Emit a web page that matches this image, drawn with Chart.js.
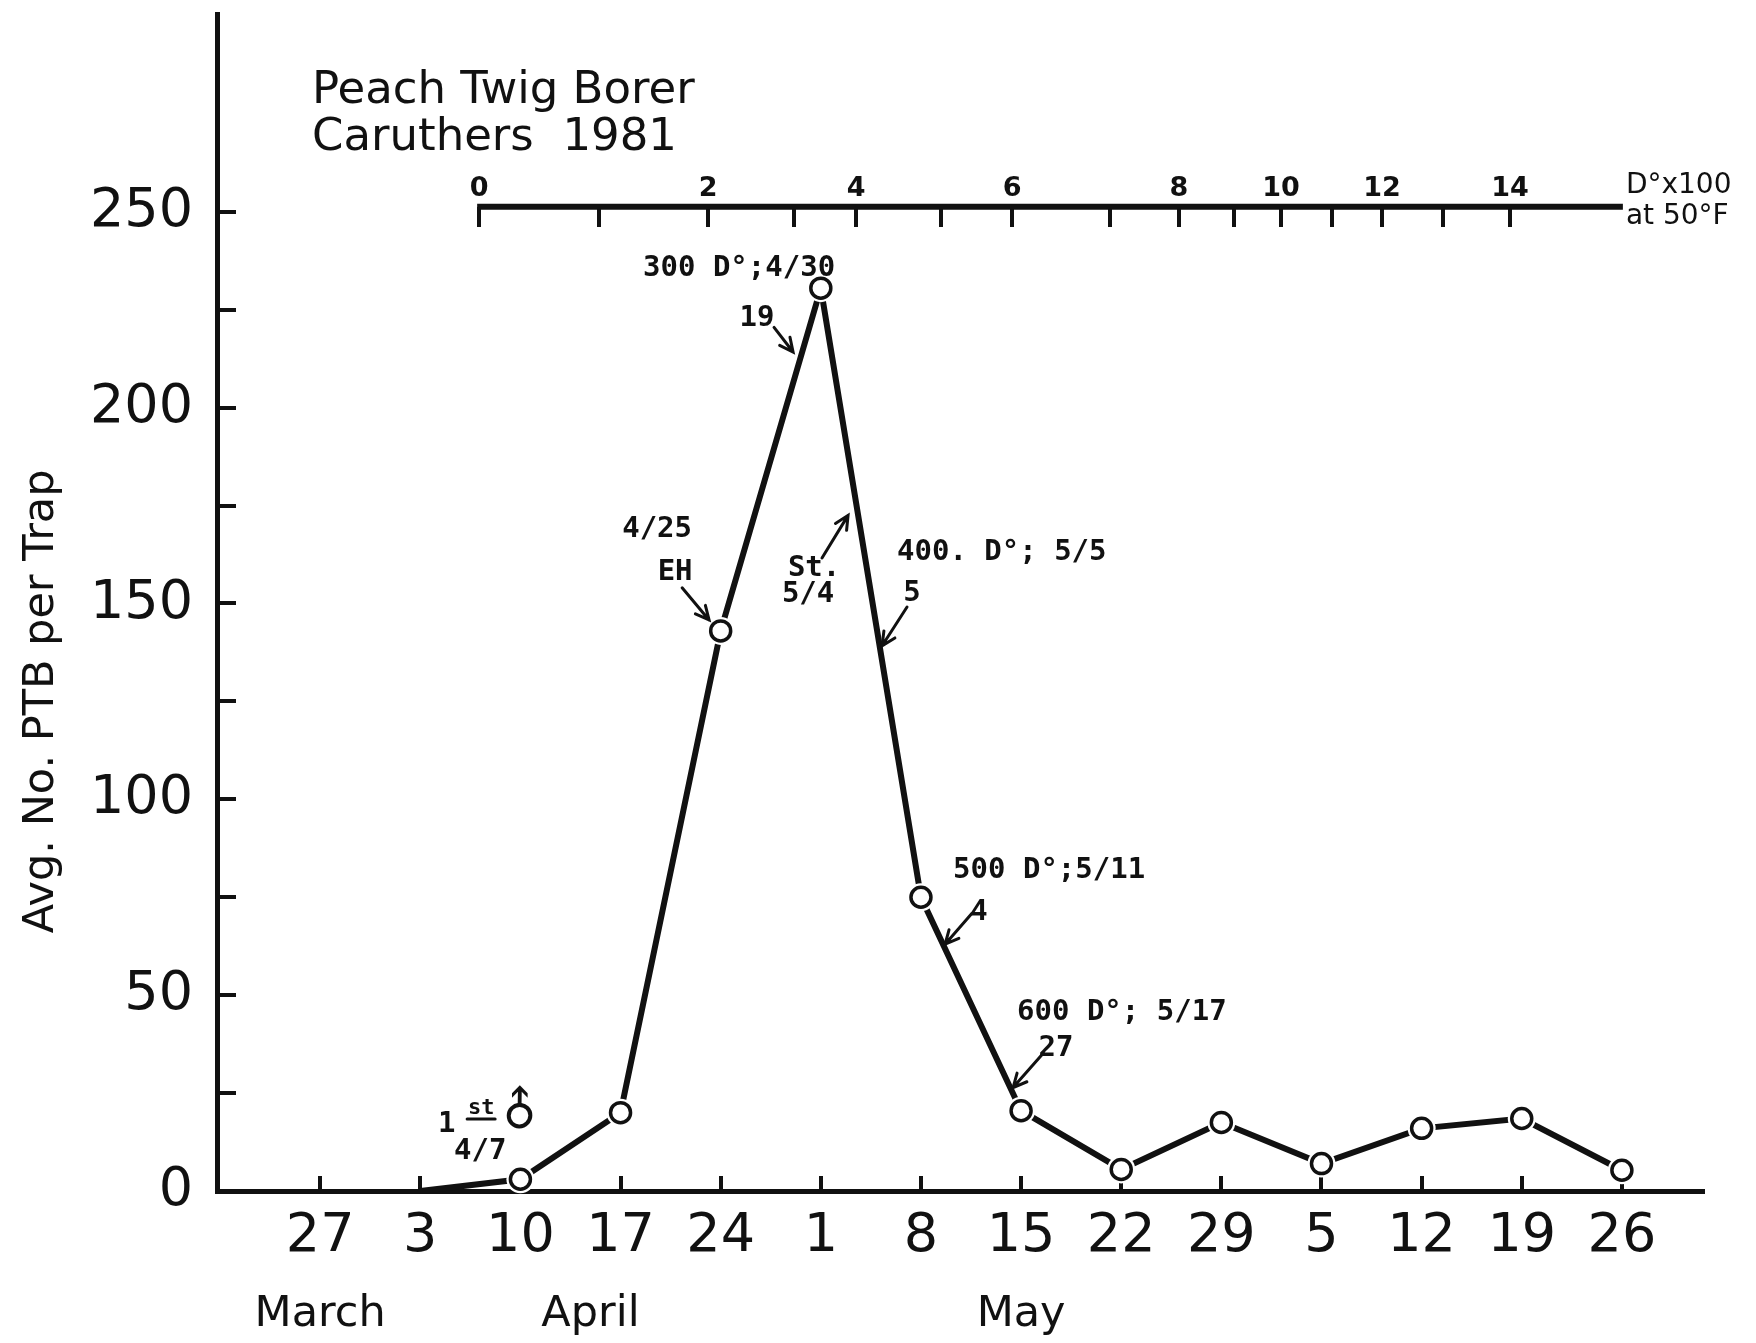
<!DOCTYPE html>
<html lang="en">
<head>
<meta charset="UTF-8" />
<title>Peach Twig Borer - Caruthers 1981</title>
<script src="https://cdn.jsdelivr.net/npm/chart.js"></script>
<style>
  html, body { margin: 0; padding: 0; background: #fff; }
  #wrap { width: 1756px; height: 1343px; }
</style>
</head>
<body>
<div id="wrap"><canvas id="ptbChart" width="1756" height="1343"></canvas></div>
<script>
// weekly trap catches (week index 0 = Mar 27)
const weekLabels = ['27', '3', '10', '17', '24', '1', '8', '15', '22', '29', '5', '12', '19', '26'];
const trapCounts = [null, 0, 3, 20, 143, 230.5, 75, 20.5, 5.5, 17.5, 7, 16, 18.5, 5.3];
const yTickValues = [0, 25, 50, 75, 100, 125, 150, 175, 200, 225, 250];

const monthNames = ['March', 'April', 'May'];
const monthAt = [0, 2.7, 7];

// degree-day scale (D° x 100 at 50°F), placed on the week axis
const degreeDays = [0, 1, 2, 3, 4, 5, 6, 7, 8, 9, 10, 11, 12, 13, 14];
const degreeDayAt = [1.588, 2.786, 3.874, 4.733, 5.352, 6.201, 6.910, 7.888, 8.577, 9.126, 9.595, 10.105, 10.604, 11.213, 11.882];
const degreeDayEnd = 13.01;
const degreeAxisLevel = 251.3;

// hand-typed notes on the figure: [week, count]
const notes = [
  { text: '300 D°;4/30', at: [3.225, 235.5], align: 'left' },
  { text: '19', at: [4.363, 222.8] },
  { text: '4/25', at: [3.365, 169.0] },
  { text: 'EH', at: [3.545, 157.8] },
  { text: 'St.', at: [4.933, 159.0] },
  { text: '5/4', at: [4.873, 152.2] },
  { text: '400. D°; 5/5', at: [5.761, 163.1], align: 'left' },
  { text: '5', at: [5.911, 152.6] },
  { text: '500 D°;5/11', at: [6.321, 81.8], align: 'left' },
  { text: '4', at: [6.580, 71.1] },
  { text: '600 D°; 5/17', at: [6.960, 45.7], align: 'left' },
  { text: '27', at: [7.349, 36.3] },
  { text: '4/7', at: [1.598, 10.2] },
  { text: '1', at: [1.265, 17.0] }
];
const arrows = [
  [[4.533, 220.5], [4.723, 214.2]],
  [[3.615, 154.0], [3.884, 145.8]],
  [[5.012, 161.6], [5.272, 172.5]],
  [[5.861, 149.1], [5.612, 139.2]],
  [[6.510, 70.9], [6.241, 63.0]],
  [[7.219, 35.1], [6.920, 26.4]]
];

const ink = '#111';
const xMin = -1.03, xMax = 13.81;

function drawArrow(ctx, x1, y1, x2, y2) {
  const a = Math.atan2(y2 - y1, x2 - x1), h = 15, w = 0.45;
  ctx.beginPath();
  ctx.moveTo(x1, y1);
  ctx.lineTo(x2, y2);
  ctx.moveTo(x2 - h * Math.cos(a - w), y2 - h * Math.sin(a - w));
  ctx.lineTo(x2, y2);
  ctx.lineTo(x2 - h * Math.cos(a + w), y2 - h * Math.sin(a + w));
  ctx.stroke();
}

const figureExtras = {
  id: 'figureExtras',
  afterDatasetsDraw(chart) {
    const { ctx, chartArea, scales: { x, y } } = chart;
    const px = v => x.getPixelForValue(v);
    const py = v => y.getPixelForValue(v);
    ctx.save();
    ctx.fillStyle = ink;
    ctx.strokeStyle = ink;
    ctx.lineCap = 'round';

    // title
    ctx.font = '45px "DejaVu Sans"';
    ctx.textAlign = 'left';
    ctx.textBaseline = 'alphabetic';
    ctx.fillText('Peach Twig Borer', chartArea.left + 95, chartArea.top + 89);
    ctx.fillText('Caruthers  1981', chartArea.left + 95, chartArea.top + 136);

    // y axis title
    ctx.save();
    ctx.translate(42, py(125));
    ctx.rotate(-Math.PI / 2);
    ctx.font = '43px "DejaVu Sans"';
    ctx.textAlign = 'center';
    ctx.textBaseline = 'middle';
    ctx.fillText('Avg. No. PTB per Trap', 0, 0);
    ctx.restore();

    // degree-day axis line and unit
    const ly = py(degreeAxisLevel);
    ctx.lineWidth = 6;
    ctx.lineCap = 'butt';
    ctx.beginPath();
    ctx.moveTo(px(degreeDayAt[0]) - 2, ly);
    ctx.lineTo(px(degreeDayEnd), ly);
    ctx.stroke();
    ctx.lineCap = 'round';
    ctx.font = '28px "DejaVu Sans"';
    ctx.textAlign = 'left';
    ctx.textBaseline = 'middle';
    ctx.fillText('D°x100', px(degreeDayEnd) + 3, ly - 21);
    ctx.fillText('at 50°F', px(degreeDayEnd) + 3, ly + 10);

    // typed notes
    ctx.font = 'bold 29px "DejaVu Sans Mono"';
    notes.forEach(n => {
      ctx.textAlign = n.align || 'center';
      ctx.fillText(n.text, px(n.at[0]), py(n.at[1]));
    });
    // "1st" superscript + male sign
    ctx.font = 'bold 22px "DejaVu Sans Mono"';
    ctx.textAlign = 'center';
    const sx = px(1.608), sy = py(21.2);
    ctx.fillText('st', sx, sy);
    ctx.lineWidth = 3;
    ctx.beginPath();
    ctx.moveTo(sx - 14, sy + 11);
    ctx.lineTo(sx + 14, sy + 11);
    ctx.stroke();
    ctx.save();
    ctx.translate(px(2.02), py(20.0));
    ctx.rotate(-Math.PI / 4);
    ctx.font = 'bold 46px "DejaVu Sans"';
    ctx.fillText('♂', 0, 0);
    ctx.restore();

    ctx.lineWidth = 3;
    arrows.forEach(([a, b]) => drawArrow(ctx, px(a[0]), py(a[1]), px(b[0]), py(b[1])));
    ctx.restore();
  }
};

const points = weekLabels
  .map((_, i) => ({ x: i, y: trapCounts[i] }))
  .filter(p => p.y !== null);
const markerRadius = r => ctx => (ctx.dataIndex === 0 ? 0 : r);

new Chart(document.getElementById('ptbChart'), {
  type: 'line',
  data: {
    datasets: [
      {
        // open circles
        data: points,
        order: 1,
        showLine: false,
        pointRadius: markerRadius(10),
        pointBorderWidth: 3.5,
        pointBorderColor: ink,
        pointBackgroundColor: '#fff',
        clip: false
      },
      {
        // white halo so the line stops short of each circle
        data: points,
        order: 2,
        showLine: false,
        pointRadius: markerRadius(14),
        pointBorderWidth: 0,
        pointBackgroundColor: '#fff',
        clip: false
      },
      {
        data: points,
        order: 3,
        borderColor: ink,
        borderWidth: 6,
        borderCapStyle: 'round',
        tension: 0,
        pointRadius: 0,
        clip: false
      }
    ]
  },
  options: {
    responsive: false,
    animation: false,
    events: [],
    layout: { padding: { left: 0, top: 8, right: 53, bottom: 0 } },
    plugins: { legend: { display: false }, tooltip: { enabled: false } },
    scales: {
      x: {
        type: 'linear',
        position: 'bottom',
        min: xMin,
        max: xMax,
        afterBuildTicks: s => { s.ticks = weekLabels.map((_, i) => ({ value: i })); },
        afterFit: s => { s.height = 85; s.paddingLeft = 0; s.paddingRight = 0; },
        ticks: {
          autoSkip: false,
          maxRotation: 0,
          color: ink,
          font: { family: 'DejaVu Sans', size: 54 },
          padding: 29,
          callback: (v, i) => weekLabels[i]
        },
        grid: { drawOnChartArea: false, drawTicks: true, tickLength: -15, lineWidth: 4, color: ink },
        border: { display: true, width: 5, color: ink }
      },
      months: {
        type: 'linear',
        position: 'bottom',
        min: xMin,
        max: xMax,
        afterBuildTicks: s => { s.ticks = monthAt.map(v => ({ value: v })); },
        afterFit: s => { s.height = 67; s.paddingLeft = 0; s.paddingRight = 0; },
        ticks: {
          autoSkip: false,
          maxRotation: 0,
          color: ink,
          font: { family: 'DejaVu Sans', size: 43 },
          padding: 5,
          callback: (v, i) => monthNames[i]
        },
        grid: { display: false },
        border: { display: false }
      },
      degree: {
        type: 'linear',
        axis: 'x',
        position: { y: degreeAxisLevel },
        min: xMin,
        max: xMax,
        afterBuildTicks: s => { s.ticks = degreeDayAt.map(v => ({ value: v })); },
        afterFit: s => { s.paddingLeft = 0; s.paddingRight = 0; },
        ticks: {
          autoSkip: false,
          maxRotation: 0,
          color: ink,
          font: { family: 'DejaVu Sans', size: 27, weight: 'bold' },
          padding: -54,
          callback: (v, i) => (degreeDays[i] % 2 === 0 ? String(degreeDays[i]) : '')
        },
        grid: { drawOnChartArea: false, drawTicks: true, tickLength: 20, lineWidth: 4, color: ink },
        border: { display: false }
      },
      y: {
        type: 'linear',
        position: 'left',
        min: 0,
        max: 300.5,
        afterBuildTicks: s => { s.ticks = yTickValues.map(v => ({ value: v })); },
        afterFit: s => { s.width = 217; s.paddingTop = 0; s.paddingBottom = 0; },
        ticks: {
          autoSkip: false,
          color: ink,
          font: { family: 'DejaVu Sans', size: 54 },
          padding: 43,
          callback: v => (v % 50 === 0 ? String(v) : '')
        },
        grid: { drawOnChartArea: false, drawTicks: true, tickLength: -19, lineWidth: 4, color: ink },
        border: { display: true, width: 5, color: ink }
      }
    }
  },
  plugins: [figureExtras]
});
</script>
</body>
</html>
